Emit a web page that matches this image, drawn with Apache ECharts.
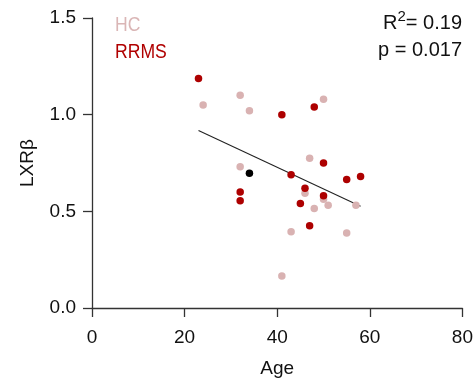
<!DOCTYPE html>
<html><head><meta charset="utf-8">
<script src="https://cdn.jsdelivr.net/npm/echarts@6/dist/echarts.min.js"></script>
<style>html,body{margin:0;padding:0;background:#fff}#c{width:476px;height:383px}</style>
</head><body><div id="c"></div>
<script>
const xTicks = [0, 20, 40, 60, 80];
const yTicks = [0.0, 0.5, 1.0, 1.5];
const hcPoints = [[24,1.05],[32,1.10],[34,1.02],[50,1.08],[47,0.775],[32,0.73],[46,0.594],[50,0.563],[48,0.515],[51,0.531],[57,0.531],[43,0.395],[55,0.388],[41,0.166]];
const rrmsPoints = [[23,1.187],[41,1.0],[48,1.04],[50,0.75],[43,0.689],[55,0.665],[58,0.68],[46,0.62],[32,0.60],[32,0.555],[50,0.58],[45,0.541],[47,0.426]];
const blackPoints = [[34,0.697]];
const fitLine = [[23,0.918],[58,0.526]];
const stats = ['{n|R}{sup|2}{n|= 0.19}', 'p = 0.017'];

const font = 'Liberation Sans, Arial, sans-serif';
const axisCol = '#333';
const chart = echarts.init(document.getElementById('c'));
chart.setOption({
  animation: false,
  grid: {left: 92, right: 11, top: 18, bottom: 74},
  xAxis: {
    type: 'value', min: 0, max: 80, interval: 20,
    name: 'Age', nameLocation: 'middle', nameGap: 51,
    nameTextStyle: {fontFamily: font, fontSize: 19, color: '#111'},
    axisLine: {lineStyle: {color: axisCol, width: 1.3}},
    axisTick: {show: true, length: 9, lineStyle: {color: axisCol, width: 1.3}},
    axisLabel: {fontFamily: font, fontSize: 19, color: '#111', margin: 20,
      formatter: v => xTicks.includes(v) ? String(v) : ''},
    splitLine: {show: false}
  },
  yAxis: {
    type: 'value', min: 0, max: 1.5, interval: 0.5,
    name: 'LXRβ', nameLocation: 'middle', nameGap: 55,
    nameTextStyle: {fontFamily: font, fontSize: 19, color: '#111'},
    axisLine: {show: true, lineStyle: {color: axisCol, width: 1.3}},
    axisTick: {show: true, length: 9, lineStyle: {color: axisCol, width: 1.3}},
    axisLabel: {fontFamily: font, fontSize: 19, color: '#111', margin: 16,
      formatter: v => yTicks.some(t => Math.abs(t - v) < 1e-9) ? v.toFixed(1) : ''},
    splitLine: {show: false}
  },
  series: [
    {type: 'line', data: fitLine, symbol: 'none', lineStyle: {color: '#222', width: 1.1}, z: 1},
    {type: 'scatter', name: 'HC', data: hcPoints, symbolSize: 7.5, itemStyle: {color: '#d9b2b2', opacity: 1}, z: 2},
    {type: 'scatter', name: 'RRMS', data: rrmsPoints, symbolSize: 7.5, itemStyle: {color: '#ad0000', opacity: 1}, z: 3},
    {type: 'scatter', name: 'other', data: blackPoints, symbolSize: 7.5, itemStyle: {color: '#000', opacity: 1}, z: 4}
  ],
  graphic: [
    {type: 'text', x: 115, y: 15, scaleX: 0.88, style: {text: 'HC', font: '20px ' + font, fill: '#dab6b6', verticalAlign: 'top'}},
    {type: 'text', x: 115, y: 42, scaleX: 0.88, style: {text: 'RRMS', font: '20px ' + font, fill: '#b00000', verticalAlign: 'top'}},
    {type: 'text', x: 462, y: 13, style: {text: stats[0], font: '20px ' + font, fill: '#111', align: 'right', verticalAlign: 'top',
      rich: {
        n: {fontSize: 20, fontFamily: font, fill: '#111', verticalAlign: 'bottom', lineHeight: 20},
        sup: {fontSize: 15, fontFamily: font, fill: '#111', verticalAlign: 'bottom', lineHeight: 15, padding: [0, 0, 9, 0]}
      }}},
    {type: 'text', x: 462, y: 40, style: {text: stats[1], font: '20px ' + font, fill: '#111', align: 'right', verticalAlign: 'top'}}
  ]
});
</script></body></html>
